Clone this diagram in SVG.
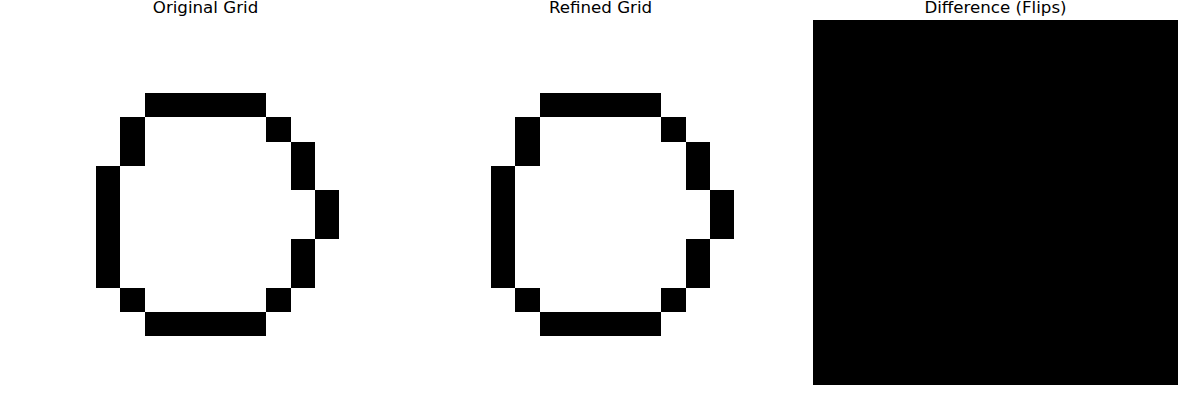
<svg xmlns="http://www.w3.org/2000/svg" xmlns:xlink="http://www.w3.org/1999/xlink" width="1200" height="400" viewBox="0 0 1200 400">
<style>
.t{font-family:"DejaVu Sans",sans-serif;font-size:16.67px;fill:#000;text-anchor:middle}
.c{fill:#000}
</style>
<defs>
<g id="ring" shape-rendering="crispEdges">
<rect class="c" x="5" y="3" width="5" height="1"/>
<rect class="c" x="4" y="4" width="1" height="2"/>
<rect class="c" x="10" y="4" width="1" height="1"/>
<rect class="c" x="11" y="5" width="1" height="2"/>
<rect class="c" x="3" y="6" width="1" height="5"/>
<rect class="c" x="12" y="7" width="1" height="2"/>
<rect class="c" x="11" y="9" width="1" height="2"/>
<rect class="c" x="4" y="11" width="1" height="1"/>
<rect class="c" x="10" y="11" width="1" height="1"/>
<rect class="c" x="5" y="12" width="5" height="1"/>
</g>
</defs>
<rect width="1200" height="400" fill="#fff"/>
<g id="original">
<text class="t" x="205.5" y="13">Original Grid</text>
<use xlink:href="#ring" href="#ring" transform="translate(23,20) scale(24.333)"/>
</g>
<g id="refined">
<text class="t" x="600.5" y="13">Refined Grid</text>
<use xlink:href="#ring" href="#ring" transform="translate(418,20) scale(24.333)"/>
</g>
<g id="difference">
<text class="t" x="995.5" y="13">Difference (Flips)</text>
<rect x="813" y="20" width="365" height="365" fill="#000"/>
</g>
<g id="connectors"/>
</svg>
